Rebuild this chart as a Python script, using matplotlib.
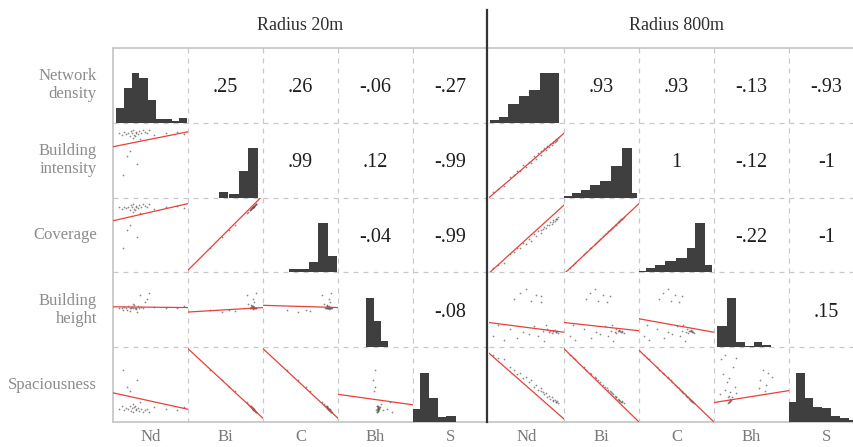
import numpy as np
import matplotlib
matplotlib.use('Agg')
from matplotlib import pyplot as plt

plt.rcParams['font.family'] = ['Liberation Serif', 'DejaVu Serif']

variables = ['Nd', 'Bi', 'C', 'Bh', 'S']
row_labels = ['Network\ndensity', 'Building\nintensity', 'Coverage',
              'Building\nheight', 'Spaciousness']
titles = ['Radius 20m', 'Radius 800m']

# correlation coefficients, upper triangle, row by row
corr_20 = [['.25', '.26', '-.06', '-.27'],
           ['.99', '.12', '-.99'],
           ['-.04', '-.99'],
           ['-.08']]
corr_800 = [['.93', '.93', '-.13', '-.93'],
            ['1', '-.12', '-1'],
            ['-.22', '-1'],
            ['.15']]

# histograms on the diagonal (bin edges on the scaled variable, relative heights)
hist_edges_20 = [[0.035, 0.15, 0.25, 0.35, 0.46, 0.57, 0.68, 0.79, 0.88, 0.99],
                 [0.42, 0.54, 0.68, 0.80, 0.93],
                 [0.35, 0.48, 0.61, 0.74, 0.87, 0.99],
                 [0.37, 0.48, 0.57, 0.67],
                 [0.0, 0.10, 0.22, 0.34, 0.44, 0.57]]
hist_heights_20 = [[0.30, 0.71, 1.0, 0.91, 0.46, 0.07, 0.07, 0.03, 0.10],
                   [0.12, 0.07, 0.53, 1.0],
                   [0.06, 0.06, 0.22, 1.0, 0.33],
                   [1.0, 0.53, 0.12],
                   [0.27, 1.0, 0.48, 0.11, 0.13]]
hist_edges_800 = [[0.02, 0.14, 0.26, 0.40, 0.53, 0.68, 0.80, 0.93],
                  [0.0, 0.11, 0.23, 0.35, 0.48, 0.63, 0.77, 0.91, 0.98],
                  [0.0, 0.09, 0.21, 0.34, 0.49, 0.64, 0.75, 0.88, 0.97],
                  [0.04, 0.18, 0.30, 0.42, 0.53, 0.64, 0.76],
                  [0.0, 0.10, 0.21, 0.32, 0.44, 0.56, 0.68, 0.80, 0.92]]
hist_heights_800 = [[0.05, 0.12, 0.39, 0.54, 0.66, 1.0, 1.0],
                    [0.04, 0.09, 0.16, 0.25, 0.33, 0.65, 1.0, 0.09],
                    [0.03, 0.08, 0.15, 0.24, 0.30, 0.50, 1.0, 0.14],
                    [0.42, 1.0, 0.11, 0.03, 0.10, 0.05],
                    [0.41, 1.0, 0.49, 0.31, 0.29, 0.13, 0.08, 0.05]]

# fitted lines in the lower triangle: (row, col) -> (y at left, y at right)
lines_20 = {(1, 0): (0.68, 0.88), (2, 0): (0.69, 0.92), (2, 1): (0.03, 1.03),
            (3, 0): (0.54, 0.53), (3, 1): (0.47, 0.53), (3, 2): (0.56, 0.53),
            (4, 0): (0.39, 0.17), (4, 1): (0.98, 0.05), (4, 2): (0.98, 0.05),
            (4, 3): (0.37, 0.23)}
lines_800 = {(1, 0): (0.0, 0.86), (2, 0): (-0.01, 0.90), (2, 1): (-0.02, 0.92),
             (3, 0): (0.33, 0.20), (3, 1): (0.33, 0.22), (3, 2): (0.38, 0.20),
             (4, 0): (0.92, 0.04), (4, 1): (0.98, 0.0), (4, 2): (0.96, 0.0),
             (4, 3): (0.26, 0.42)}

# observations (scaled 0-1), one list per variable
obs_20 = [
    [0.08, 0.12, 0.15, 0.18, 0.20, 0.22, 0.24, 0.25, 0.27, 0.28, 0.30, 0.31, 0.33, 0.35, 0.37,
     0.40, 0.42, 0.45, 0.48, 0.19, 0.23, 0.26, 0.29, 0.32, 0.36, 0.55, 0.70, 0.85, 0.95, 0.14],
    [0.86, 0.84, 0.88, 0.85, 0.87, 0.83, 0.89, 0.86, 0.90, 0.84, 0.88, 0.87, 0.85, 0.89, 0.86,
     0.91, 0.88, 0.87, 0.90, 0.55, 0.62, 0.80, 0.82, 0.45, 0.78, 0.84, 0.86, 0.88, 0.85, 0.30],
    [0.87, 0.85, 0.88, 0.86, 0.88, 0.84, 0.90, 0.87, 0.91, 0.85, 0.89, 0.88, 0.86, 0.90, 0.87,
     0.92, 0.89, 0.88, 0.91, 0.57, 0.63, 0.81, 0.83, 0.47, 0.79, 0.85, 0.87, 0.89, 0.86, 0.32],
    [0.53, 0.52, 0.54, 0.53, 0.55, 0.52, 0.53, 0.54, 0.52, 0.56, 0.53, 0.51, 0.55, 0.53, 0.54,
     0.52, 0.60, 0.65, 0.72, 0.50, 0.48, 0.58, 0.53, 0.47, 0.70, 0.54, 0.52, 0.53, 0.55, 0.50],
    [0.18, 0.21, 0.16, 0.19, 0.17, 0.22, 0.15, 0.19, 0.14, 0.20, 0.17, 0.16, 0.19, 0.15, 0.18,
     0.13, 0.16, 0.18, 0.14, 0.47, 0.41, 0.24, 0.22, 0.56, 0.27, 0.20, 0.17, 0.16, 0.20, 0.70],
]
obs_800 = [
    [0.05, 0.12, 0.20, 0.28, 0.33, 0.38, 0.42, 0.46, 0.50, 0.53, 0.56, 0.60, 0.63, 0.66, 0.69,
     0.72, 0.74, 0.76, 0.78, 0.80, 0.82, 0.84, 0.86, 0.88, 0.90, 0.91, 0.92, 0.70, 0.85, 0.89],
    [0.08, 0.12, 0.15, 0.27, 0.30, 0.36, 0.35, 0.43, 0.41, 0.48, 0.46, 0.55, 0.52, 0.59, 0.57,
     0.63, 0.66, 0.64, 0.69, 0.68, 0.72, 0.70, 0.75, 0.74, 0.78, 0.77, 0.80, 0.62, 0.73, 0.76],
    [0.06, 0.10, 0.13, 0.24, 0.27, 0.33, 0.32, 0.39, 0.38, 0.44, 0.42, 0.51, 0.48, 0.55, 0.53,
     0.58, 0.61, 0.59, 0.64, 0.63, 0.67, 0.65, 0.70, 0.69, 0.72, 0.71, 0.74, 0.57, 0.68, 0.71],
    [0.15, 0.30, 0.10, 0.25, 0.65, 0.12, 0.72, 0.20, 0.78, 0.18, 0.62, 0.28, 0.70, 0.15, 0.60,
     0.22, 0.08, 0.30, 0.24, 0.20, 0.22, 0.19, 0.21, 0.23, 0.20, 0.22, 0.19, 0.68, 0.21, 0.20],
    [0.90, 0.86, 0.84, 0.73, 0.70, 0.64, 0.66, 0.59, 0.60, 0.54, 0.56, 0.47, 0.50, 0.43, 0.45,
     0.40, 0.37, 0.39, 0.34, 0.35, 0.31, 0.33, 0.28, 0.29, 0.27, 0.28, 0.25, 0.41, 0.30, 0.27],
]

W, H = 854, 447
grid_x0 = [113, 489]
grid_y0 = 48
cw, ch = 75, 74.8
hist_top = 0.66

fig = plt.figure(figsize=(W / 100, H / 100), dpi=100)
bg = fig.add_axes([0, 0, 1, 1])
bg.set_xlim(0, W)
bg.set_ylim(H, 0)
bg.axis('off')

grid_bottom = grid_y0 + 5 * ch
# dashed cell borders
for x0 in grid_x0:
    for k in range(1, 5):
        bg.plot([x0 + k * cw] * 2, [grid_y0, grid_bottom], color='#c8c8c8',
                lw=0.9, ls=(0, (4, 4)))
        bg.plot([x0, x0 + 5 * cw], [grid_y0 + k * ch] * 2, color='#c8c8c8',
                lw=0.9, ls=(0, (4, 4)))
# frame
bg.plot([113, W], [grid_y0, grid_y0], color='#c4c4c4', lw=1.2)
bg.plot([113, W], [grid_bottom, grid_bottom], color='#c4c4c4', lw=1.2)
bg.plot([113, 113], [grid_y0, grid_bottom], color='#c4c4c4', lw=1.2)
bg.plot([487.5, 487.5], [10, grid_bottom], color='#333333', lw=1.6)

for i, lab in enumerate(row_labels):
    bg.text(97, grid_y0 + (i + 0.5) * ch, lab, ha='right', va='center',
            fontsize=12, color='#8c8c8c', linespacing=1.15)

for g, x0 in enumerate(grid_x0):
    bg.text(x0 + 2.5 * cw, 26, titles[g], ha='center', va='center',
            fontsize=13, color='#2e2e2e')
    for j, v in enumerate(variables):
        bg.text(x0 + (j + 0.5) * cw, 437, v, ha='center', va='center',
                fontsize=12, color='#7a7a7a')

panels = [(corr_20, hist_edges_20, hist_heights_20, lines_20, obs_20),
          (corr_800, hist_edges_800, hist_heights_800, lines_800, obs_800)]

for g, (corr, edges, heights, lines, obs) in enumerate(panels):
    for i in range(5):
        for j in range(5):
            left = (grid_x0[g] + j * cw) / W
            bottom = 1 - (grid_y0 + (i + 1) * ch) / H
            ax = fig.add_axes([left, bottom, cw / W, ch / H])
            ax.set_xlim(0, 1)
            ax.set_ylim(0, 1)
            ax.axis('off')
            if i == j:
                e = np.array(edges[i])
                ax.bar(e[:-1], np.array(heights[i]) * hist_top, width=np.diff(e),
                       align='edge', color='#3f3f3f', linewidth=0)
            elif j > i:
                ax.text(0.5, 0.47, corr[i][j - i - 1], ha='center', va='center',
                        fontsize=14.5, color='#1e1e1e')
            else:
                ax.scatter(obs[j], obs[i], s=1.6, color='#5a5a5a', alpha=0.7,
                           linewidths=0)
                y0, y1 = lines[(i, j)]
                ax.plot([0, 1], [y0, y1], color='#e8403a', lw=0.9)

fig.savefig('out.png', dpi=100)
